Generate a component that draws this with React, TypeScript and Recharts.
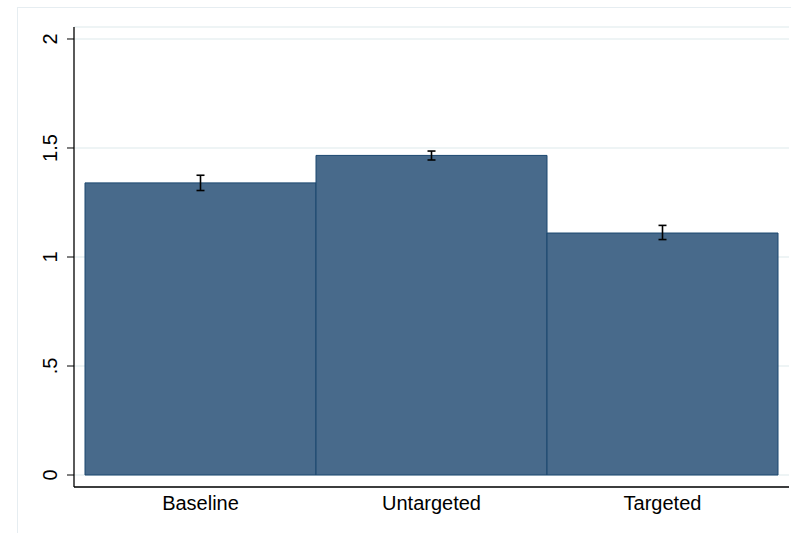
import { BarChart, Bar, XAxis, YAxis, CartesianGrid, ErrorBar } from "recharts";

const groups = ["Baseline", "Untargeted", "Targeted"];
const means = [1.34, 1.466, 1.11];
const ciLow = [1.305, 1.445, 1.08];
const ciHigh = [1.375, 1.486, 1.145];
const yTicks = [0, 0.5, 1, 1.5, 2];
const yTickLabels = ["0", ".5", "1", "1.5", "2"];

const data = groups.map((g, i) => ({
  group: g,
  mean: means[i],
  ci: [means[i] - ciLow[i], ciHigh[i] - means[i]],
}));

const FONT = "'Liberation Sans', Arial, sans-serif";

const YTick = ({ x, y, payload }: any) => {
  const idx = yTicks.indexOf(payload.value);
  const cx = x - 15;
  return (
    <text
      x={cx}
      y={y}
      transform={`rotate(-90 ${cx} ${y})`}
      textAnchor="middle"
      dominantBaseline="central"
      fontSize={20}
      fontFamily={FONT}
      fill="#000"
    >
      {idx >= 0 ? yTickLabels[idx] : payload.value}
    </text>
  );
};

const XTick = ({ x, y, payload }: any) => (
  <text x={x} y={y + 23} textAnchor="middle" fontSize={20} fontFamily={FONT} fill="#000">
    {payload.value}
  </text>
);

const App = () => {
  return (
    <div style={{ position: "absolute", left: 0, top: 0, width: 791, height: 533, overflow: "hidden", background: "#fff" }}>
      <div
        style={{
          position: "absolute",
          left: 17,
          top: 7,
          width: 800,
          height: 600,
          border: "1px solid #e6edf1",
        }}
      />
      <div style={{ position: "absolute", left: 0, top: 0 }}>
        <BarChart
          width={791}
          height={533}
          data={data}
          margin={{ top: 27, right: 2, left: 0, bottom: 0 }}
          barCategoryGap={0}
        >
          <CartesianGrid horizontal vertical={false} stroke="#e9f0f2" strokeWidth={1.5} />
          <XAxis
            dataKey="group"
            height={46}
            padding={{ left: 11, right: 11 }}
            axisLine={{ stroke: "#000", strokeWidth: 1.3 }}
            tickLine={false}
            tickSize={0}
            tickMargin={0}
            tick={<XTick />}
            interval={0}
          />
          <YAxis
            width={74}
            type="number"
            domain={[-0.055, 2.055]}
            ticks={yTicks}
            axisLine={{ stroke: "#000", strokeWidth: 1.3 }}
            tickLine={{ stroke: "#000" }}
            tickSize={7}
            tickMargin={2}
            tick={<YTick />}
            interval={0}
          />
          <Bar dataKey="mean" fill="#486a8b" stroke="#1a476f" strokeWidth={1} isAnimationActive={false}>
            <ErrorBar dataKey="ci" width={4} stroke="#000" strokeWidth={1.6} direction="y" />
          </Bar>
        </BarChart>
      </div>
    </div>
  );
};

export default App;
